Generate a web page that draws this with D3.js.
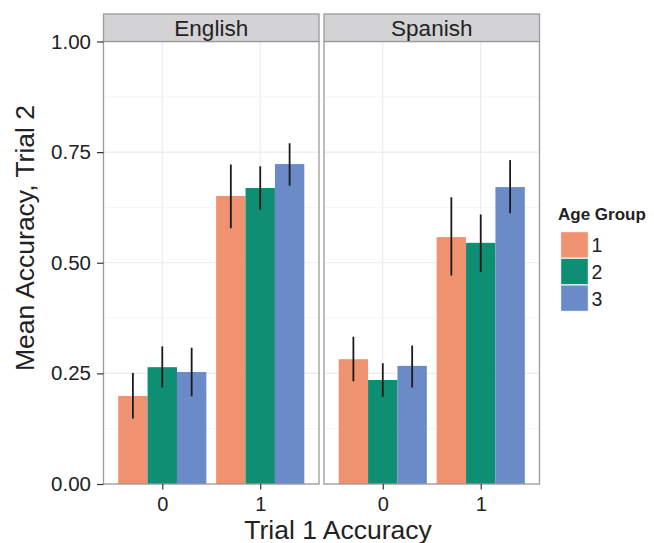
<!DOCTYPE html>
<html><head><meta charset="utf-8">
<script src="https://cdn.jsdelivr.net/npm/d3@7"></script>
<style>body{margin:0;background:#fff}svg{display:block;font-family:"Liberation Sans",Arial,Helvetica,sans-serif}</style>
</head><body><svg id="c" width="654" height="543"></svg>
<script>
const languages = ["English", "Spanish"];
const trial1 = ["0", "1"];
const ageGroups = ["1", "2", "3"];
const colors = ["#EF9270", "#0E8E72", "#6A8AC8"];
const yTicks = [0, 0.25, 0.5, 0.75, 1.0];
// mean, lower, upper per language, trial1 value, age group
const englishMean = [[0.199, 0.264, 0.253], [0.651, 0.669, 0.723]];
const englishLow  = [[0.148, 0.218, 0.198], [0.578, 0.620, 0.674]];
const englishHigh = [[0.251, 0.311, 0.308], [0.722, 0.718, 0.770]];
const spanishMean = [[0.282, 0.235, 0.267], [0.558, 0.545, 0.671]];
const spanishLow  = [[0.232, 0.197, 0.218], [0.471, 0.479, 0.612]];
const spanishHigh = [[0.333, 0.273, 0.313], [0.648, 0.609, 0.732]];

const means = [englishMean, spanishMean], lows = [englishLow, spanishLow], highs = [englishHigh, spanishHigh];
const svg = d3.select("#c");
const panelX = [103.5, 324];
const panelW = 215.5;
const plotTop = 41.5, plotBottom = 484;
const stripTop = 14;
const y = d3.scaleLinear().domain([0, 1]).range([plotBottom, plotTop]);
const txt = "#222";
const ff = "Liberation Sans, Arial, sans-serif";

languages.forEach((lang, li) => {
  const x0 = panelX[li];
  const unit = panelW / 2.2;
  const cx = d3.scalePoint().domain(trial1).range([x0 + 0.6*unit, x0 + 1.6*unit]);
  const xa = d3.scaleBand().domain(ageGroups).range([-0.45*unit, 0.45*unit]);
  const g = svg.append("g");
  [0.125, 0.375, 0.625, 0.875].forEach(v => g.append("line").attr("x1", x0).attr("x2", x0+panelW).attr("y1", y(v)).attr("y2", y(v)).attr("stroke", "#F5F5F5").attr("stroke-width", 1));
  yTicks.forEach(v => g.append("line").attr("x1", x0).attr("x2", x0+panelW).attr("y1", y(v)).attr("y2", y(v)).attr("stroke", "#EBEBEB").attr("stroke-width", 1.2));
  trial1.forEach(t => g.append("line").attr("x1", cx(t)).attr("x2", cx(t)).attr("y1", plotTop).attr("y2", plotBottom).attr("stroke", "#EBEBEB").attr("stroke-width", 1.2));
  trial1.forEach((t, ti) => {
    ageGroups.forEach((a, ai) => {
      g.append("rect").attr("x", cx(t) + xa(a)).attr("width", xa.bandwidth())
        .attr("y", y(means[li][ti][ai])).attr("height", y(0) - y(means[li][ti][ai]))
        .attr("fill", colors[ai]);
    });
  });
  trial1.forEach((t, ti) => {
    ageGroups.forEach((a, ai) => {
      const xm = cx(t) + xa(a) + xa.bandwidth()/2;
      g.append("line").attr("x1", xm).attr("x2", xm).attr("y1", y(lows[li][ti][ai])).attr("y2", y(highs[li][ti][ai]))
        .attr("stroke", "#1a1a1a").attr("stroke-width", 1.8);
    });
  });
  g.append("rect").attr("x", x0).attr("y", plotTop).attr("width", panelW).attr("height", plotBottom-plotTop).attr("fill", "none").attr("stroke", "#9a9a9a").attr("stroke-width", 1.3);
  g.append("rect").attr("x", x0).attr("y", stripTop).attr("width", panelW).attr("height", plotTop-stripTop).attr("fill", "#D3D3D5").attr("stroke", "#9a9a9a").attr("stroke-width", 1.3);
  g.append("text").attr("x", x0 + panelW/2).attr("y", 36).attr("text-anchor", "middle").attr("font-size", 22.5).attr("fill", txt).text(lang);
  const xAxis = d3.axisBottom(cx).tickSize(5.5).tickPadding(4);
  const ax = svg.append("g").attr("transform", `translate(0,${plotBottom})`).call(xAxis);
  ax.select(".domain").remove();
  ax.selectAll(".tick line").attr("stroke", "#333").attr("stroke-width", 1.2);
  ax.selectAll(".tick text").attr("font-size", 20).attr("fill", txt).attr("font-family", ff).attr("y", 27).attr("dy", null);
});

const yAxis = d3.axisLeft(y).tickValues(yTicks).tickFormat(d3.format(".2f")).tickSize(6.5).tickPadding(6);
const ay = svg.append("g").attr("transform", `translate(${panelX[0]},0)`).call(yAxis);
ay.select(".domain").remove();
ay.selectAll(".tick line").attr("stroke", "#333").attr("stroke-width", 1.2);
ay.selectAll(".tick text").attr("font-size", 20.5).attr("fill", txt).attr("font-family", ff);

svg.append("text").attr("transform", `translate(33.5,238) rotate(-90)`).attr("text-anchor", "middle").attr("font-size", 26.5).attr("fill", txt).text("Mean Accuracy, Trial 2");
svg.append("text").attr("x", 338).attr("y", 539).attr("text-anchor", "middle").attr("font-size", 26.5).attr("fill", txt).text("Trial 1 Accuracy");

const lg = svg.append("g");
lg.append("text").attr("x", 558).attr("y", 220).attr("font-size", 17).attr("font-weight", "bold").attr("fill", txt).text("Age Group");
const ky = d3.scaleBand().domain(ageGroups).range([231.5, 311.5]);
ageGroups.forEach((a, i) => {
  lg.append("rect").attr("x", 560.5).attr("y", ky(a)).attr("width", 28).attr("height", ky.bandwidth()).attr("fill", "#F2F2F2");
  lg.append("rect").attr("x", 561.2).attr("y", ky(a) + 0.7).attr("width", 26.6).attr("height", ky.bandwidth() - 1.4).attr("fill", colors[i]);
  lg.append("text").attr("x", 591.5).attr("y", ky(a) + ky.bandwidth()/2 + 7.5).attr("font-size", 19.5).attr("fill", txt).text(a);
});
</script></body></html>
